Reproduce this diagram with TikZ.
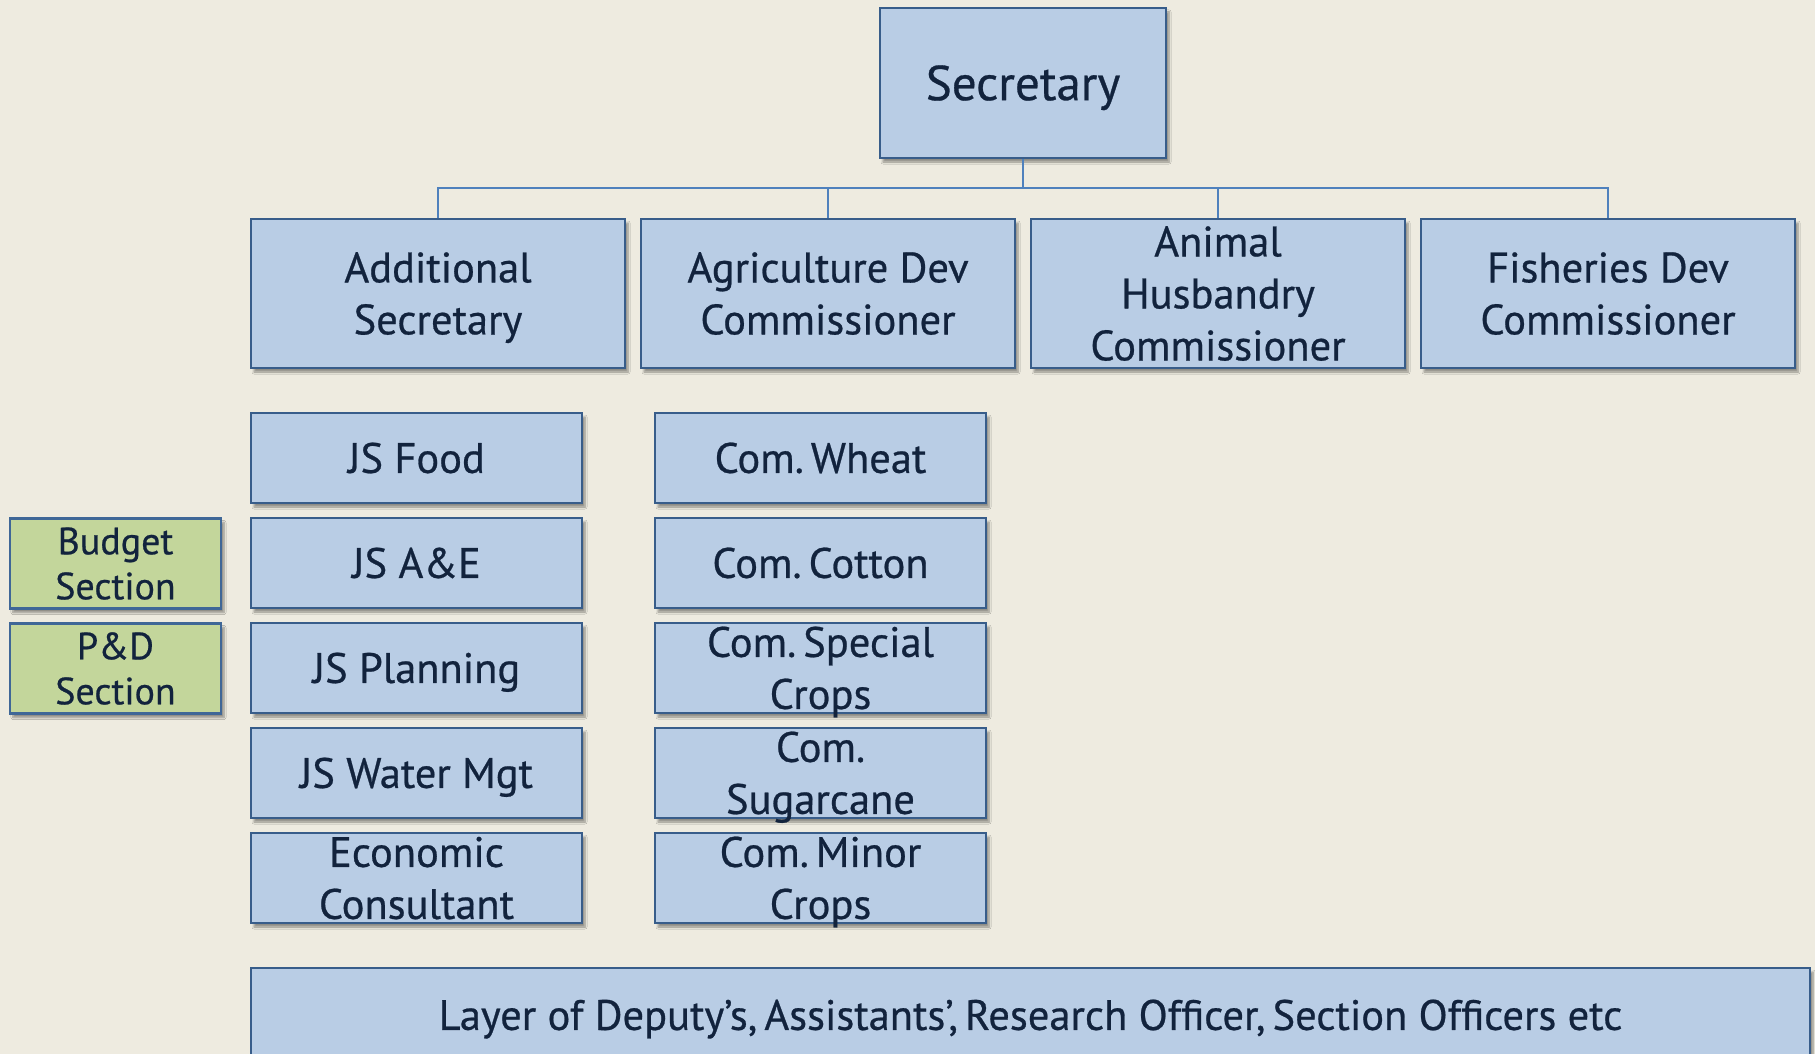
\documentclass[tikz,border=0pt]{standalone}
\usepackage{fontspec}
\setmainfont{PT Sans}[FakeBold=0.6]
\newfontfamily\orgfont{PT Sans}[FakeBold=0.6]
\usetikzlibrary{shadows.blur}
\definecolor{bgc}{HTML}{EEEBE0}
\definecolor{boxfill}{HTML}{B9CDE5}
\definecolor{boxline}{HTML}{385D8A}
\definecolor{connc}{HTML}{4F81BD}
\definecolor{greenfill}{HTML}{C3D69B}
\definecolor{txtc}{HTML}{12233D}
\newcommand\capline[1]{\smash{#1}\vrule height 0.7em depth 0pt width 0pt}
\tikzset{
  orgbox/.style={draw=boxline, line width=2.6pt, fill=boxfill, inner sep=0pt,
    blur shadow={shadow xshift=3pt, shadow yshift=-4pt, shadow blur steps=6, shadow opacity=40}},
  greenbox/.style={orgbox, fill=greenfill, draw=connc!80!black},
  lab/.style={text=txtc, align=center, inner sep=0pt},
  bigtxt/.style={lab, font=\orgfont\fontsize{49}{58}\selectfont},
  midtxt/.style={lab, font=\orgfont\fontsize{42.5}{52}\selectfont},
  smalltxt/.style={lab, font=\orgfont\fontsize{38}{45}\selectfont},
  conn/.style={draw=connc, line width=2.4pt},
}
\begin{document}
\begin{tikzpicture}[x=1pt,y=-1pt]
\useasboundingbox[fill=bgc] (0,0) rectangle (1815,1054);
% top
\node[orgbox, minimum width=286pt, minimum height=150pt,
  label={[bigtxt]center:\capline{Secretary}}] (sec) at (1023,83) {};
% second row
\foreach \n/\x/\t in {as/438/{\capline{Additional}\\\capline{Secretary}},
                      ag/828/{\capline{Agriculture Dev}\\\capline{Commissioner}},
                      ah/1218/{\capline{Animal}\\\capline{Husbandry}\\\capline{Commissioner}},
                      fd/1608/{\capline{Fisheries Dev}\\\capline{Commissioner}}}{
  \node[orgbox, minimum width=374pt, minimum height=149pt,
    label={[midtxt]center:\t}] (\n) at (\x,293.5) {};
}
\coordinate (bar) at (1023,188);
\draw[conn] (sec.south) -- (bar);
\draw[conn] (bar) -| (as.north);
\draw[conn] (bar) -| (ag.north);
\draw[conn] (bar) -| (ah.north);
\draw[conn] (bar) -| (fd.north);
% left column
\foreach \n/\y/\t in {jf/458/{\capline{JS Food}}, ja/563/{\capline{JS A\&E}},
                      jp/668/{\capline{JS Planning}}, jw/773/{\capline{JS Water Mgt}},
                      ec/878/{\capline{Economic}\\\capline{Consultant}}}{
  \node[orgbox, minimum width=331pt, minimum height=90pt,
    label={[midtxt]center:\t}] (\n) at (416.5,\y) {};
}
% commodity column
\foreach \n/\y/\t in {cw/458/{\capline{Com.\,Wheat}}, cc/563/{\capline{Com.\,Cotton}},
                      cs/668/{\capline{Com.\,Special}\\\capline{Crops}},
                      cg/773/{\capline{Com.}\\\capline{Sugarcane}},
                      cm/878/{\capline{Com.\,Minor}\\\capline{Crops}}}{
  \node[orgbox, minimum width=331pt, minimum height=90pt,
    label={[midtxt]center:\t}] (\n) at (820.5,\y) {};
}
% green sections
\node[greenbox, minimum width=211pt, minimum height=90pt,
  label={[smalltxt]center:\capline{Budget}\\\capline{Section}}] (bs) at (115.5,563.5) {};
\node[greenbox, minimum width=211pt, minimum height=90pt,
  label={[smalltxt]center:\capline{P\&D}\\\capline{Section}}] (pd) at (115.5,668.5) {};
% bottom layer
\node[orgbox, minimum width=1559pt, minimum height=94pt,
  label={[midtxt]center:\capline{Layer of Deputy’s,\,Assistants’,\,Research Officer,\,Section Officers etc}}] (ly) at (1030.5,1015) {};
\end{tikzpicture}
\end{document}
